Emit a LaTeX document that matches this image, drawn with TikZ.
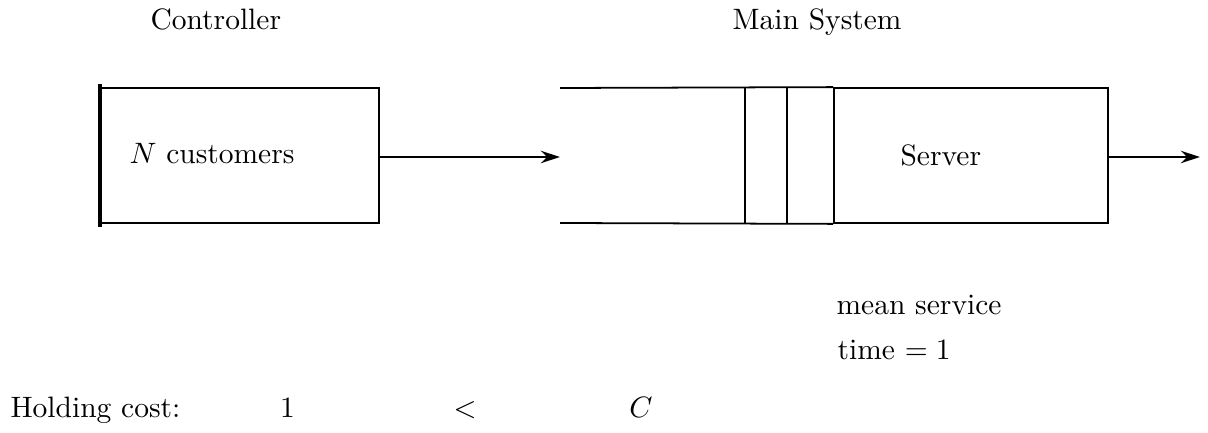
\documentclass[tikz,border=0pt]{standalone}
\usetikzlibrary{arrows.meta}
\begin{document}
\begin{tikzpicture}[x=0.339pt,y=-0.339pt,
  line/.style={line width=0.6pt},
  bar/.style={line width=1.1pt},
  flow/.style={line width=0.7pt,-{Stealth[length=6.5pt,width=4.2pt,inset=2.2pt]}},
  lbl/.style={inner sep=0pt,anchor=base west},
  mid/.style={inner sep=0pt,anchor=base}]
\useasboundingbox (0,0) rectangle (1208,433);
% titles
\node[lbl] (tctrl) at (150,30) {Controller};
\node[lbl] (tmain) at (732,30) {Main System};
% controller box
\node[line,draw,rectangle,minimum width=279*0.339pt,minimum height=135*0.339pt,inner sep=0pt] (ctrl) at (239.5,155.5) {};
\draw[bar] (100,84) -- (100,227);
\node[lbl] (ncust) at (129,164) {$N$ customers};
% main system
\node[line,draw,rectangle,minimum width=274*0.339pt,minimum height=135*0.339pt,inner sep=0pt] (srv) at (971,155.5) {};
\coordinate (qtl) at (560,88);
\coordinate (qbl) at (560,223);
\draw[line] (qtl) -- (srv.north west);
\draw[line] (qbl) -- (srv.south west);
\coordinate (v1t) at (745,88); \coordinate (v1b) at (745,223);
\coordinate (v2t) at (787,88); \coordinate (v2b) at (787,223);
\draw[line] (v1t) -- (v1b);
\draw[line] (v2t) -- (v2b);
\node[lbl] (server) at (900,166) {Server};
% flows
\coordinate (qin) at (560,157);
\coordinate (out) at (1200,157);
\draw[flow] (ctrl.east |- qin) -- (qin);
\draw[flow] (srv.east |- out) -- (out);
% service time
\node[lbl] (ms1) at (836,315) {mean service};
\node[lbl] (ms2) at (837,360) {time $=1$};
% holding cost
\node[lbl] (hc) at (10,418) {Holding cost:};
\node[mid] (h1) at (287.5,418) {1};
\node[mid] (hlt) at (465,418) {$<$};
\node[mid] (hC) at (641,418) {$C$};
\end{tikzpicture}
\end{document}
